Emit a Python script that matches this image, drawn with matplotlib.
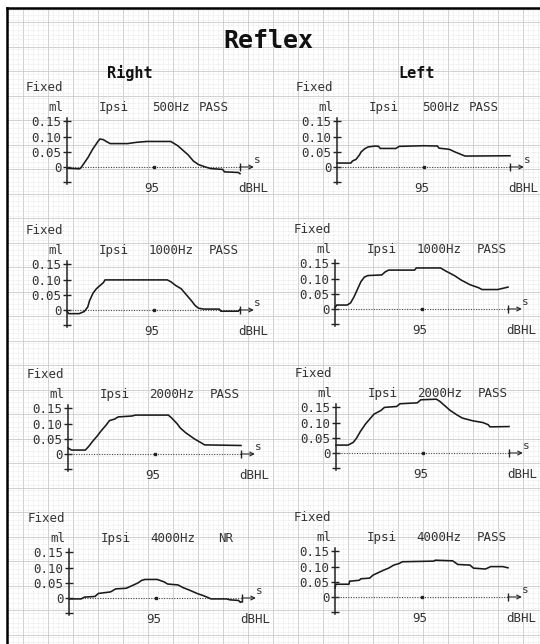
import numpy as np
import matplotlib.pyplot as plt

W, H = 540, 644
MONO = 'DejaVu Sans Mono'

freqs = ['500Hz', '1000Hz', '2000Hz', '4000Hz']
right_status = ['PASS', 'PASS', 'PASS', 'NR']
left_status = ['PASS', 'PASS', 'PASS', 'PASS']
stim_level = '95'
yticks = [-0.05, 0, 0.05, 0.10, 0.15]
ytick_labels = ['', '0', '0.05', '0.10', '0.15']

# sweep time scaled 0..1, compliance change in ml
r500_t = [0, 0.07, 0.08, 0.12, 0.15, 0.18, 0.19, 0.21, 0.23, 0.25, 0.35, 0.40, 0.46, 0.60, 0.64, 0.70, 0.73, 0.76, 0.80, 0.83, 0.90, 0.91, 0.99, 1.0]
r500_v = [-0.004, -0.006, -0.003, 0.03, 0.06, 0.085, 0.092, 0.09, 0.083, 0.077, 0.077, 0.081, 0.084, 0.084, 0.07, 0.04, 0.02, 0.008, 0.0, -0.005, -0.008, -0.016, -0.018, -0.022]
l500_t = [0, 0.08, 0.09, 0.11, 0.13, 0.14, 0.16, 0.18, 0.22, 0.24, 0.25, 0.34, 0.36, 0.50, 0.58, 0.59, 0.65, 0.68, 0.71, 0.74, 1.0]
l500_v = [0.013, 0.013, 0.02, 0.025, 0.04, 0.05, 0.06, 0.066, 0.069, 0.068, 0.061, 0.061, 0.068, 0.07, 0.069, 0.062, 0.058, 0.05, 0.043, 0.036, 0.037]

r1000_t = [0, 0.01, 0.07, 0.10, 0.12, 0.13, 0.15, 0.17, 0.19, 0.21, 0.22, 0.58, 0.60, 0.63, 0.66, 0.69, 0.72, 0.74, 0.76, 0.79, 0.88, 0.89, 0.99, 1.0]
r1000_v = [-0.004, -0.012, -0.012, -0.005, 0.01, 0.03, 0.055, 0.07, 0.08, 0.09, 0.099, 0.099, 0.093, 0.08, 0.07, 0.05, 0.03, 0.015, 0.006, 0.003, 0.003, -0.004, -0.004, 0.002]
l1000_t = [0, 0.01, 0.07, 0.09, 0.11, 0.13, 0.15, 0.17, 0.19, 0.27, 0.29, 0.31, 0.46, 0.47, 0.61, 0.64, 0.69, 0.73, 0.78, 0.83, 0.85, 0.94, 0.97, 1.0]
l1000_v = [0.005, 0.013, 0.013, 0.02, 0.04, 0.065, 0.09, 0.105, 0.11, 0.112, 0.122, 0.128, 0.128, 0.135, 0.135, 0.125, 0.11, 0.095, 0.08, 0.07, 0.064, 0.064, 0.068, 0.072]

r2000_t = [0, 0.02, 0.10, 0.12, 0.14, 0.17, 0.19, 0.22, 0.24, 0.27, 0.29, 0.37, 0.39, 0.58, 0.60, 0.63, 0.65, 0.68, 0.70, 0.73, 0.76, 0.79, 1.0]
r2000_v = [0.02, 0.013, 0.013, 0.025, 0.04, 0.06, 0.075, 0.095, 0.11, 0.115, 0.122, 0.125, 0.128, 0.128, 0.118, 0.10, 0.085, 0.07, 0.062, 0.05, 0.04, 0.03, 0.028]
l2000_t = [0, 0.07, 0.10, 0.12, 0.14, 0.17, 0.20, 0.22, 0.26, 0.28, 0.35, 0.37, 0.47, 0.49, 0.58, 0.60, 0.63, 0.66, 0.70, 0.73, 0.79, 0.85, 0.88, 0.89, 1.0]
l2000_v = [0.026, 0.026, 0.035, 0.05, 0.07, 0.095, 0.115, 0.128, 0.14, 0.15, 0.153, 0.162, 0.165, 0.175, 0.177, 0.17, 0.155, 0.14, 0.125, 0.115, 0.106, 0.10, 0.093, 0.086, 0.087]

r4000_t = [0, 0.07, 0.09, 0.15, 0.17, 0.24, 0.27, 0.33, 0.37, 0.40, 0.42, 0.44, 0.51, 0.55, 0.57, 0.63, 0.66, 0.70, 0.74, 0.78, 0.81, 0.82, 0.91, 0.93, 0.98, 0.99, 1.0]
r4000_v = [-0.003, -0.003, 0.003, 0.005, 0.015, 0.02, 0.03, 0.032, 0.042, 0.05, 0.058, 0.061, 0.061, 0.053, 0.046, 0.043, 0.034, 0.025, 0.015, 0.007, 0.0, -0.003, -0.003, -0.006, -0.008, -0.014, -0.012]
l4000_t = [0, 0.005, 0.08, 0.085, 0.14, 0.15, 0.20, 0.22, 0.25, 0.28, 0.31, 0.34, 0.37, 0.39, 0.57, 0.58, 0.68, 0.71, 0.78, 0.80, 0.87, 0.90, 0.97, 1.0]
l4000_v = [0.03, 0.042, 0.042, 0.052, 0.055, 0.06, 0.062, 0.072, 0.08, 0.088, 0.095, 0.105, 0.11, 0.116, 0.118, 0.121, 0.119, 0.107, 0.105, 0.095, 0.092, 0.10, 0.10, 0.096]

right_t = [r500_t, r1000_t, r2000_t, r4000_t]
right_v = [r500_v, r1000_v, r2000_v, r4000_v]
left_t = [l500_t, l1000_t, l2000_t, l4000_t]
left_v = [l500_v, l1000_v, l2000_v, l4000_v]

# pixel position of each panel's origin (t=0, v=0)
right_org = [(67, 167), (67, 310), (68, 454), (69, 598)]
left_org = [(337, 167), (335, 309), (336, 453), (335, 597)]

fig = plt.figure(figsize=(W / 100, H / 100), dpi=100)

# graph paper background with the printout frame
bg = fig.add_axes([7 / W, 0, (W - 7) / W, (H - 8) / H])
bg.set_xlim(7, W)
bg.set_ylim(H, 8)
bg.set_xticks(np.arange(23, W, 25))
bg.set_xticks(np.arange(8, W, 5), minor=True)
bg.set_yticks(np.arange(22, H, 24.5))
bg.set_yticks(np.arange(10, H, 4.9), minor=True)
bg.tick_params(which='both', length=0, labelleft=False, labelbottom=False)
bg.grid(which='major', color='#cacaca', lw=0.6)
bg.grid(which='minor', color='#e2e2e2', lw=0.5, ls=(0, (1, 1)))
bg.set_axisbelow(True)
for s in ['right', 'bottom']:
    bg.spines[s].set_visible(False)
for s in ['left', 'top']:
    bg.spines[s].set_linewidth(1.8)

fig.text(268 / W, 1 - 41 / H, 'Reflex', family=MONO, weight='bold', fontsize=18,
         ha='center', va='center', color='#111111')
fig.text(130 / W, 1 - 73 / H, 'Right', family=MONO, weight='bold', fontsize=11,
         ha='center', va='center', color='#111111')
fig.text(417 / W, 1 - 73 / H, 'Left', family=MONO, weight='bold', fontsize=11,
         ha='center', va='center', color='#111111')

SX = 173.0          # px per sweep
SY = 15.2 / 0.05    # px per ml
T0, T1, V0, V1 = -0.35, 1.2, -0.09, 0.21


def panel(org, t, v, freq, status):
    x0, y0 = org
    left = x0 + T0 * SX
    bottom = y0 - V0 * SY
    ax = fig.add_axes([left / W, 1 - bottom / H, (T1 - T0) * SX / W, (V1 - V0) * SY / H])
    ax.set_xlim(T0, T1)
    ax.set_ylim(V0, V1)
    ax.patch.set_alpha(0)
    for s in ['top', 'right', 'bottom']:
        ax.spines[s].set_visible(False)
    ax.spines['left'].set_position(('data', 0))
    ax.spines['left'].set_bounds(-0.055, 0.16)
    ax.spines['left'].set_linewidth(1.1)
    ax.spines['left'].set_color('#222222')
    ax.set_xticks([])
    ax.set_yticks(yticks, ytick_labels, family=MONO, fontsize=9, color='#333333')
    ax.tick_params(axis='y', direction='inout', length=6, width=1.0, pad=1,
                   color='#222222')

    ax.plot([0, 1], [0, 0], ls=(0, (1, 1.3)), lw=0.8, color='#444444')
    ax.plot([0.5], [0], marker='s', ms=1.6, color='#222222')
    ax.plot(t, v, color='#1a1a1a', lw=1.15, solid_joinstyle='miter')
    ax.plot([1.0], [0], marker='|', ms=6, mew=1.0, color='#222222')
    ax.annotate('', xy=(1.08, 0), xytext=(1.0, 0),
                arrowprops=dict(arrowstyle='->', lw=0.8, color='#222222',
                                shrinkA=0, shrinkB=0, mutation_scale=7))
    ax.text(1.1, 0.022, 's', family=MONO, fontsize=8, ha='center', va='center',
            color='#333333')

    kw = dict(family=MONO, fontsize=9, va='center', color='#333333')
    ax.text(-0.24, 0.263, 'Fixed', ha='left', **kw)
    ax.text(-0.065, 0.197, 'ml', ha='center', **kw)
    ax.text(0.27, 0.197, 'Ipsi', ha='center', **kw)
    ax.text(0.6, 0.197, freq, ha='center', **kw)
    ax.text(0.85 if freq == '500Hz' else 0.905, 0.197, status, ha='center', **kw)
    ax.text(0.49, -0.072, stim_level, ha='center', **kw)
    ax.text(0.99, -0.072, 'dBHL', ha='left', **kw)
    return ax


for i in range(4):
    panel(right_org[i], right_t[i], right_v[i], freqs[i], right_status[i])
    panel(left_org[i], left_t[i], left_v[i], freqs[i], left_status[i])

fig.savefig('out.png', dpi=100)
